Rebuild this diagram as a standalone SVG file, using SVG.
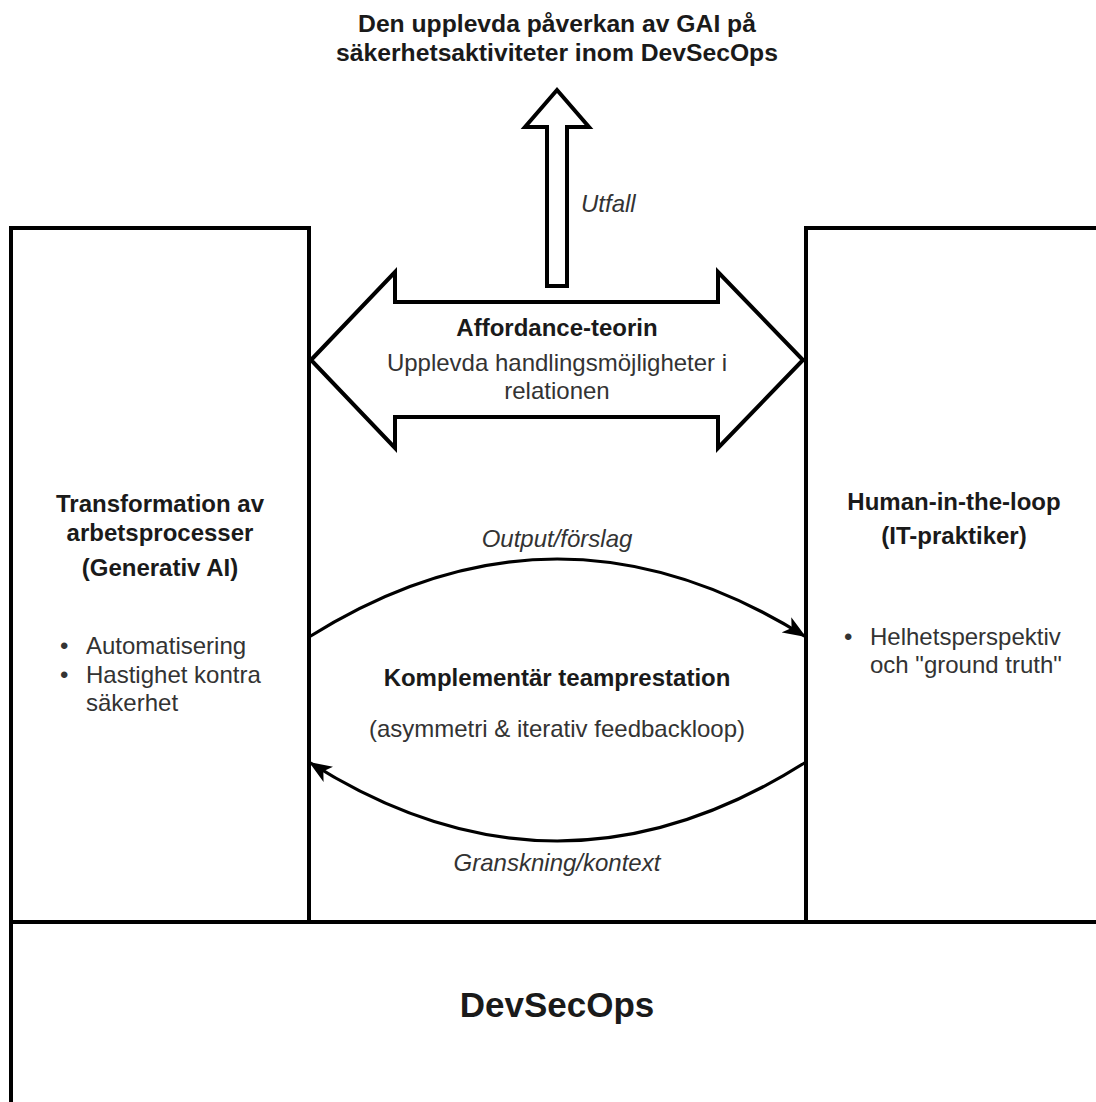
<svg xmlns="http://www.w3.org/2000/svg" width="1096" height="1102" viewBox="0 0 1096 1102">
  <style>
    .box { fill: #ffffff; stroke: #000000; stroke-width: 4; }
    .shape { fill: #ffffff; stroke: #000000; stroke-width: 4; stroke-linejoin: miter; }
    .curve { fill: none; stroke: #000000; stroke-width: 3.2; }
    .b { font-family: "Liberation Sans", Arial, Helvetica, sans-serif; font-weight: bold; fill: #1a1a1a; }
    .r { font-family: "Liberation Sans", Arial, Helvetica, sans-serif; fill: #333333; }
    .i { font-family: "Liberation Sans", Arial, Helvetica, sans-serif; font-style: italic; fill: #333333; }
    .c { text-anchor: middle; }
  </style>
  <defs>
    <marker id="arrowHead" markerUnits="userSpaceOnUse" markerWidth="24" markerHeight="20" viewBox="0 0 24 20" refX="23" refY="10" orient="auto">
      <path d="M0,1 L23,10 L0,19 L6,10 Z" fill="#000000"/>
    </marker>
  </defs>
  <rect width="1096" height="1102" fill="#ffffff"/>

  <g id="title">
    <text class="b c" x="557" y="32" font-size="24.7">Den upplevda påverkan av GAI på</text>
    <text class="b c" x="557" y="61" font-size="24.7">säkerhetsaktiviteter inom DevSecOps</text>
  </g>

  <g id="devsecops">
    <rect class="box" x="11" y="922" width="1100" height="190"/>
    <text class="b c" x="557" y="1017" font-size="35">DevSecOps</text>
  </g>

  <g id="generativ-ai">
    <rect class="box" x="11" y="228" width="298" height="694"/>
    <text class="b c" x="160" y="512" font-size="24">Transformation av</text>
    <text class="b c" x="160" y="541" font-size="24">arbetsprocesser</text>
    <text class="b c" x="160" y="576" font-size="24">(Generativ AI)</text>
    <text class="r" x="60" y="654" font-size="24">•</text>
    <text class="r" x="86" y="654" font-size="24">Automatisering</text>
    <text class="r" x="60" y="683" font-size="24">•</text>
    <text class="r" x="86" y="683" font-size="24">Hastighet kontra</text>
    <text class="r" x="86" y="711" font-size="24">säkerhet</text>
  </g>

  <g id="human-in-the-loop">
    <rect class="box" x="806" y="228" width="300" height="694"/>
    <text class="b c" x="954" y="510" font-size="24">Human-in-the-loop</text>
    <text class="b c" x="954" y="544" font-size="24">(IT-praktiker)</text>
    <text class="r" x="844" y="645" font-size="24">•</text>
    <text class="r" x="870" y="645" font-size="24">Helhetsperspektiv</text>
    <text class="r" x="870" y="673" font-size="24">och "ground truth"</text>
  </g>

  <g id="utfall-arrow">
    <path class="shape" d="M547,286 L547,127 L525,127 L557,90 L589,127 L567,127 L567,286 Z"/>
    <text class="i" x="581" y="212" font-size="24">Utfall</text>
  </g>

  <g id="affordance">
    <path class="shape" d="M311,360 L395,272 L395,302 L718,302 L718,272 L803,360 L718,448 L718,417 L395,417 L395,448 Z"/>
    <text class="b c" x="557" y="336" font-size="24">Affordance-teorin</text>
    <text class="r c" x="557" y="371" font-size="24">Upplevda handlingsmöjligheter i</text>
    <text class="r c" x="557" y="399" font-size="24">relationen</text>
  </g>

  <g id="teamprestation">
    <text class="b c" x="557" y="686" font-size="24">Komplementär teamprestation</text>
    <text class="r c" x="557" y="737" font-size="24">(asymmetri &amp; iterativ feedbackloop)</text>
  </g>

  <g id="connectors">
    <path class="curve" d="M309,637 Q557,481 806,637" marker-end="url(#arrowHead)"/>
    <text class="i c" x="557" y="547" font-size="24">Output/förslag</text>
    <path class="curve" d="M806,762 Q557,920 309,762" marker-end="url(#arrowHead)"/>
    <text class="i c" x="557" y="871" font-size="24">Granskning/kontext</text>
  </g>
</svg>
